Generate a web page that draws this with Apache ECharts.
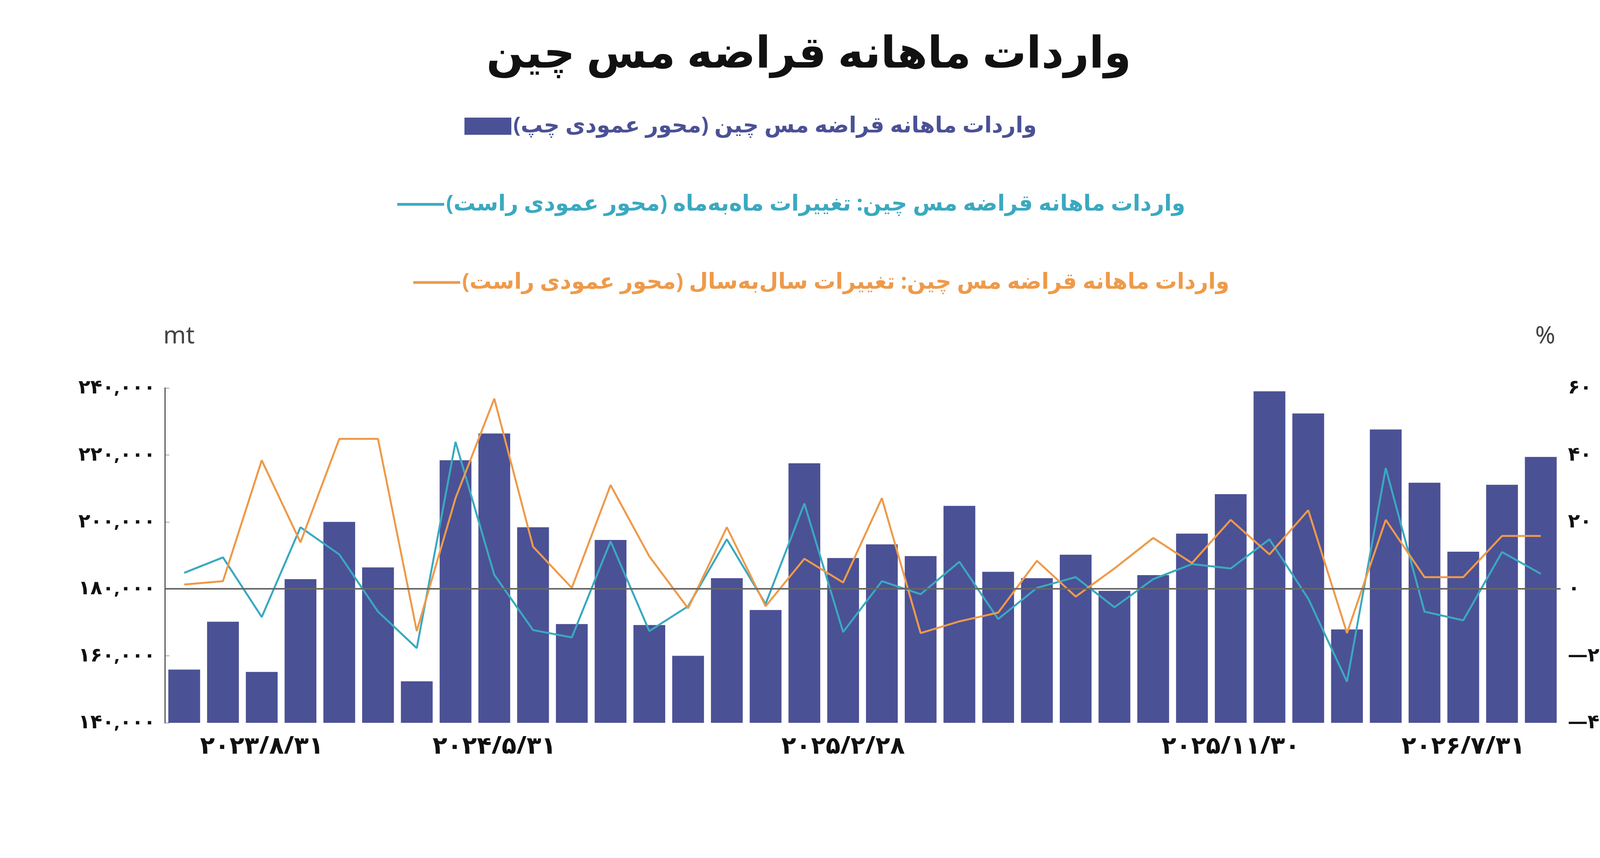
<!DOCTYPE html>
<html><head><meta charset="utf-8">
<script src="https://cdn.jsdelivr.net/npm/echarts@6/dist/echarts.min.js"></script>
<style>html,body{margin:0;background:#fff}#c{width:4267px;height:2196px}</style>
</head><body><div id="c"></div>
<script>
const categories = Array.from({length:36},(_,i)=>'m'+(i+1));
const tickLabels = {2:'۲۰۲۳/۸/۳۱',8:'۲۰۲۴/۵/۳۱',17:'۲۰۲۵/۲/۲۸',27:'۲۰۲۵/۱۱/۳۰',33:'۲۰۲۶/۷/۳۱'};
const imports = [155900,170200,155200,182900,200000,186400,152400,218400,226400,198400,169500,194600,169200,160000,183200,173700,217500,189200,193300,189800,204800,185100,183200,190200,179400,184100,196500,208300,239000,232400,167900,227600,211700,191100,211100,219400];
const mom = [4.8,9.4,-8.4,18.4,10.3,-6.8,-17.7,43.9,4.2,-12.3,-14.5,14.2,-12.6,-5.2,14.8,-4.5,25.5,-12.9,2.3,-1.6,8.1,-9,0.3,3.5,-5.5,2.9,7.4,6.1,14.8,-2.9,-27.7,36.1,-6.8,-9.4,11,4.5];
const yoy = [1.3,2.3,38.4,13.9,44.8,44.8,-12.6,27.1,56.8,12.6,0.3,31,9.7,-5.8,18.4,-5.2,9,1.9,27.1,-13.2,-9.7,-7.1,8.4,-2.3,6.1,15.2,7.7,20.6,10.3,23.5,-13.2,20.6,3.5,3.5,15.8,15.8];
const names = ['واردات ماهانه قراضه مس چین (محور عمودی چپ)','واردات ماهانه قراضه مس چین: تغییرات ماه‌به‌ماه (محور عمودی راست)','واردات ماهانه قراضه مس چین: تغییرات سال‌به‌سال (محور عمودی راست)'];
const fa = n => String(n).replace(/\d/g,d=>'۰۱۲۳۴۵۶۷۸۹'[d]);
const C = ['#4b5195','#3aa9c0','#ee9a4a'];
const F = 'Noto Sans, DejaVu Sans, sans-serif';
const lg = (i,top,left)=>({data:[names[i]],top,left,icon:'rect',itemWidth:120,itemHeight:i===0?44:7,itemGap:70,
  textStyle:{fontSize:56,fontWeight:'bold',color:C[i],fontFamily:F}});
const chart = echarts.init(document.getElementById('c'));
chart.setOption({
  animation:false,
  title:{text:'واردات ماهانه قراضه مس چین',left:1240,top:80,textStyle:{fontSize:112,fontWeight:900,color:'#111',fontFamily:F}},
  legend:[lg(0,290,1184),lg(1,490,1012),lg(2,690,1053)],
  graphic:[
    {type:'text',left:418,top:830,style:{text:'mt',fontSize:62,fill:'#444',fontFamily:F}},
    {type:'text',left:3930,top:830,style:{text:'%',fontSize:62,fill:'#444',fontFamily:F}}
  ],
  grid:{left:422,right:273,top:993,bottom:346},
  xAxis:{type:'category',data:categories,axisTick:{show:false},
    axisLine:{lineStyle:{color:'#555',width:3}},
    axisLabel:{interval:0,fontSize:62,fontWeight:'bold',color:'#111',margin:30,fontFamily:F,
      formatter:(v,i)=>tickLabels[i]||''}},
  yAxis:[
    {type:'value',min:140000,max:240000,interval:20000,splitLine:{show:false},
     axisLine:{show:true,lineStyle:{color:'#555',width:3}},axisTick:{show:true,inside:true,length:12},
     axisLabel:{fontSize:50,fontWeight:'bold',color:'#111',margin:24,fontFamily:F,formatter:v=>fa(v.toLocaleString('en-US'))}},
    {type:'value',min:-40,max:60,interval:20,splitLine:{show:false},axisLine:{show:false},axisTick:{show:false},
     axisLabel:{fontSize:50,fontWeight:'bold',color:'#111',margin:20,fontFamily:F,formatter:v=>v<0?'\u2066—'+fa(-v)+'\u2069':fa(v)}}
  ],
  series:[
    {name:names[0],type:'bar',data:imports,barCategoryGap:'18%',itemStyle:{color:C[0]},
     markLine:{silent:true,symbol:'none',label:{show:false},lineStyle:{color:'#666',width:4,type:'solid'},data:[{yAxis:180000}]}},
    {name:names[1],type:'line',yAxisIndex:1,data:mom,symbol:'none',lineStyle:{color:C[1],width:5},itemStyle:{color:C[1]}},
    {name:names[2],type:'line',yAxisIndex:1,data:yoy,symbol:'none',lineStyle:{color:C[2],width:5},itemStyle:{color:C[2]}}
  ]
});
</script></body></html>
